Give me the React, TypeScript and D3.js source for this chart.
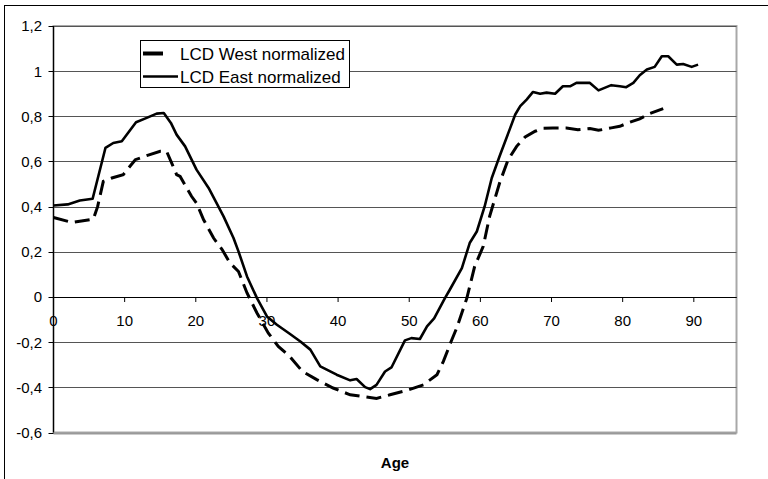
import React from "react";
import * as d3 from "d3";

const eastAges = [0, 2, 3.7, 5.5, 7.3, 8.4, 9.6, 11.6, 13.1, 14.5, 15.5, 16.5, 17.3, 18.5, 20.1, 21.8, 23.9, 25.3, 26.0, 27.2, 28.6, 30.0, 31.4, 33.2, 34.7, 36.1, 37.5, 39.8, 41.7, 42.6, 43.8, 44.5, 45.4, 46.6, 47.5, 49.4, 50.3, 51.5, 52.5, 53.5, 55.0, 55.7, 57.4, 58.5, 59.5, 60.6, 61.6, 62.7, 64.2, 64.9, 65.6, 66.5, 67.4, 68.4, 69.3, 70.5, 71.6, 72.6, 73.5, 75.4, 76.6, 78.4, 79.6, 80.5, 81.5, 82.4, 83.4, 84.5, 85.5, 86.4, 87.6, 88.5, 89.7, 90.6];
const eastValues = [0.405, 0.41, 0.427, 0.435, 0.66, 0.682, 0.69, 0.774, 0.793, 0.812, 0.815, 0.771, 0.719, 0.667, 0.564, 0.483, 0.357, 0.261, 0.202, 0.091, -0.005, -0.086, -0.123, -0.163, -0.197, -0.233, -0.307, -0.344, -0.369, -0.363, -0.399, -0.408, -0.389, -0.33, -0.312, -0.192, -0.182, -0.186, -0.13, -0.095, -0.006, 0.032, 0.128, 0.239, 0.29, 0.401, 0.527, 0.623, 0.749, 0.808, 0.845, 0.874, 0.908, 0.9, 0.905, 0.9, 0.933, 0.933, 0.948, 0.948, 0.915, 0.938, 0.933, 0.929, 0.948, 0.982, 1.007, 1.019, 1.066, 1.066, 1.029, 1.032, 1.019, 1.029];

const westAges = [0, 2.6, 5.6, 6.2, 7.0, 8.2, 9.8, 11.5, 13.1, 15.0, 15.9, 16.6, 17.3, 17.8, 19.4, 20.1, 21.1, 22.5, 23.7, 24.8, 26.0, 27.2, 28.6, 30.2, 31.6, 33.2, 35.0, 37.0, 39.3, 41.7, 44.0, 45.4, 47.3, 49.6, 52.0, 53.9, 54.8, 55.8, 56.7, 58.1, 59.2, 60.4, 61.3, 62.7, 63.9, 65.1, 66.3, 67.7, 68.8, 70.2, 72.1, 73.7, 75.4, 76.6, 78.4, 79.6, 81.0, 82.4, 83.8, 85.7];
const westValues = [0.352, 0.33, 0.345, 0.4, 0.512, 0.527, 0.542, 0.608, 0.626, 0.645, 0.645, 0.594, 0.542, 0.534, 0.446, 0.416, 0.342, 0.261, 0.21, 0.151, 0.113, 0.018, -0.071, -0.16, -0.219, -0.263, -0.33, -0.366, -0.403, -0.433, -0.443, -0.449, -0.433, -0.414, -0.389, -0.344, -0.285, -0.204, -0.135, -0.005, 0.136, 0.224, 0.357, 0.505, 0.608, 0.667, 0.709, 0.734, 0.747, 0.748, 0.748, 0.741, 0.746, 0.738, 0.749, 0.756, 0.774, 0.789, 0.812, 0.834];

const yTicks = [1.2, 1, 0.8, 0.6, 0.4, 0.2, 0, -0.2, -0.4, -0.6];
const xTicks = [0, 10, 20, 30, 40, 50, 60, 70, 80, 90];
const seriesNames = ["LCD West normalized", "LCD East normalized"];
const xTitle = "Age";

const W = 768;
const H = 479;
const FONT = "'Liberation Sans', Arial, sans-serif";

export default function App() {
  const x = d3.scaleLinear().domain([0, 96]).range([53.5, 736.5]);
  const y = d3.scaleLinear().domain([-0.6, 1.2]).range([432.5, 26]);
  const fmt = (v: number) => (Math.round(v * 10) / 10).toString().replace(".", ",");

  const line = d3
    .line<[number, number]>()
    .x((d) => x(d[0]))
    .y((d) => y(d[1]))
    .curve(d3.curveLinear);

  const east = eastAges.map((a, i) => [a, eastValues[i]] as [number, number]);
  const west = westAges.map((a, i) => [a, westValues[i]] as [number, number]);

  const [x0, x1] = x.range();
  const y0 = y(0);

  return (
    <svg
      width={W}
      height={H}
      style={{ position: "absolute", left: 0, top: 0, background: "#fff" }}
      fontFamily={FONT}
    >
      <rect x={0} y={0} width={W} height={H} fill="#fff" />
      <rect x={4.5} y={5.5} width={W + 10} height={H + 10} fill="none" stroke="#000" strokeWidth={1} />

      {/* plot area border */}
      <rect x={x0} y={y(1.2)} width={x1 - x0} height={y(-0.6) - y(1.2)} fill="none" stroke="#a8a8a8" strokeWidth={2} />

      {/* gridlines */}
      {yTicks.map((t) => (
        <line
          key={"g" + t}
          x1={x0}
          x2={x1}
          y1={Math.round(y(t)) + 0.5}
          y2={Math.round(y(t)) + 0.5}
          stroke={t === -0.6 ? "#999" : t === 0 ? "#000" : "#555"}
          strokeWidth={t === -0.6 ? 2 : 1}
        />
      ))}

      {/* y axis */}
      <line x1={x0} x2={x0} y1={y(1.2)} y2={y(-0.6)} stroke="#000" strokeWidth={1.2} />
      {yTicks.map((t) => (
        <g key={"yt" + t}>
          <line x1={x0 - 5} x2={x0} y1={Math.round(y(t)) + 0.5} y2={Math.round(y(t)) + 0.5} stroke="#000" />
          <text x={42} y={y(t)} dy="0.36em" textAnchor="end" fontSize={15} fill="#000">
            {fmt(t)}
          </text>
        </g>
      ))}

      {/* x axis at zero */}
      {xTicks.map((t) => (
        <g key={"xt" + t}>
          <line x1={x(t)} x2={x(t)} y1={y0} y2={y0 + 5} stroke="#000" />
          <text x={x(t)} y={326} textAnchor="middle" fontSize={15} fill="#000">
            {t}
          </text>
        </g>
      ))}
      <line x1={x0} x2={x1} y1={Math.round(y0) + 0.5} y2={Math.round(y0) + 0.5} stroke="#000" strokeWidth={1.2} />

      {/* series */}
      <path d={line(west) || ""} fill="none" stroke="#000" strokeWidth={3} strokeDasharray="15 7" />
      <path d={line(east) || ""} fill="none" stroke="#000" strokeWidth={2.6} strokeLinejoin="round" />

      {/* legend */}
      <rect x={140.5} y={40.5} width={209} height={47} fill="#fff" stroke="#000" strokeWidth={1} />
      <line x1={143} x2={163} y1={53.5} y2={53.5} stroke="#000" strokeWidth={4} />
      <text x={180} y={53.5} dy="0.36em" fontSize={17} fill="#000">
        {seriesNames[0]}
      </text>
      <line x1={143} x2={178} y1={76.5} y2={76.5} stroke="#000" strokeWidth={2.6} />
      <text x={180} y={76.5} dy="0.36em" fontSize={17} fill="#000">
        {seriesNames[1]}
      </text>

      {/* x title */}
      <text x={(x0 + x1) / 2} y={467.5} textAnchor="middle" fontSize={15} fontWeight="bold" fill="#000">
        {xTitle}
      </text>
    </svg>
  );
}
